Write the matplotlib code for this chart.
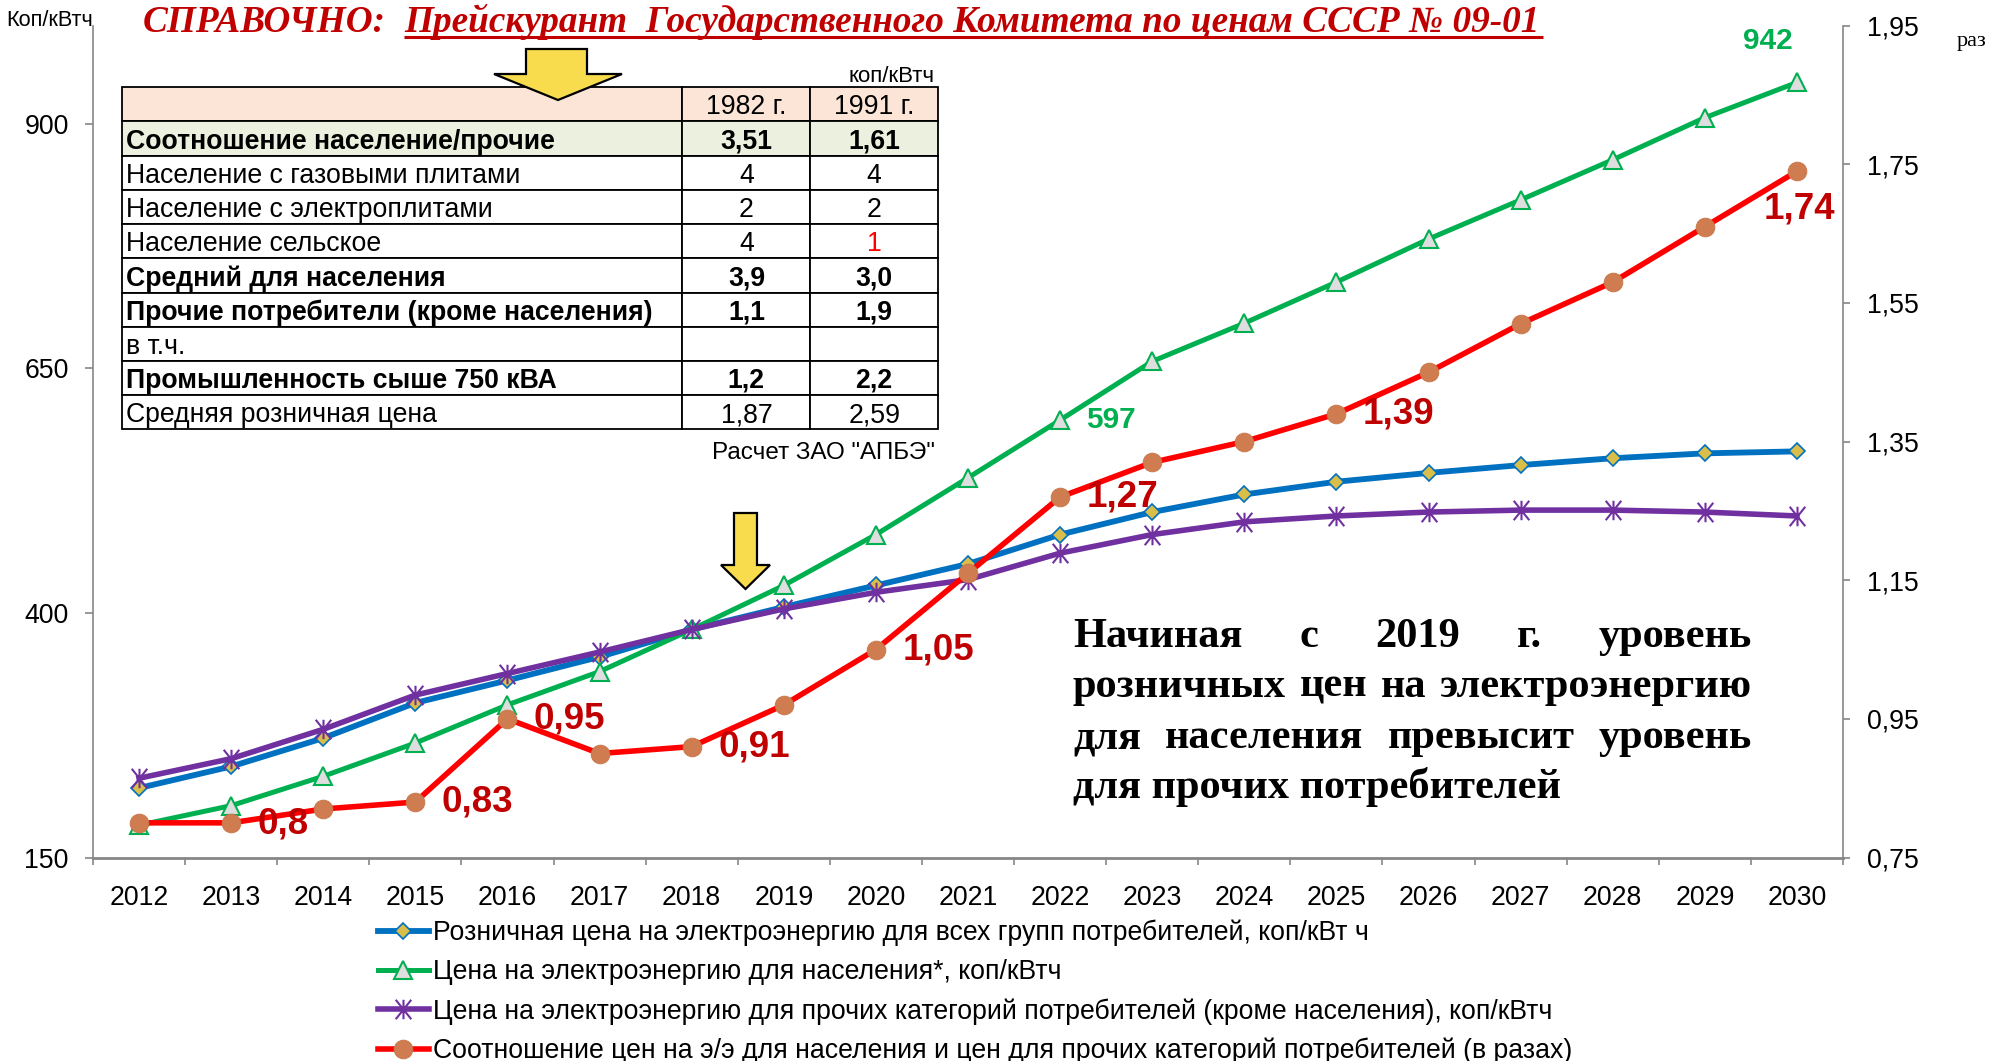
import matplotlib
matplotlib.use("Agg")
import matplotlib.pyplot as plt
import numpy as np
from matplotlib.path import Path
from matplotlib.patches import Polygon
from matplotlib.ticker import FuncFormatter

plt.rcParams["font.family"] = ["Liberation Sans", "DejaVu Sans"]

W, H = 1997, 1061

# --- data ---
years = [str(y) for y in range(2012, 2031)]
retail_all = [221, 243, 272, 308, 331, 355, 383, 406, 428, 450,
              480, 503, 521, 534, 543, 551, 558, 563, 565]
price_pop = [183, 203, 233, 267, 306, 340, 383, 428, 480, 538,
             597, 657, 696, 738, 782, 822, 863, 906, 942]
price_other = [231, 251, 281, 316, 338, 360, 383, 404, 421, 434,
               461, 480, 493, 499, 503, 505, 505, 503, 499]
ratio = [0.80, 0.80, 0.82, 0.83, 0.95, 0.90, 0.91, 0.97, 1.05, 1.16,
         1.27, 1.32, 1.35, 1.39, 1.45, 1.52, 1.58, 1.66, 1.74]
ratio_label_idx = [1, 3, 4, 6, 8, 10, 13]
pop_label_idx = [10]

series_names = [
    "Розничная цена на электроэнергию для всех групп потребителей, коп/кВт ч",
    "Цена на электроэнергию для населения*, коп/кВтч",
    "Цена на электроэнергию для прочих категорий потребителей (кроме населения), коп/кВтч",
    "Соотношение цен на э/э для населения и цен для прочих категорий потребителей (в разах)",
]

tbl_header = ["", "1982 г.", "1991 г."]
tbl_rows = ["Соотношение население/прочие", "Население с газовыми плитами",
            "Население с электроплитами", "Население сельское",
            "Средний для населения", "Прочие потребители (кроме населения)",
            "в т.ч.", "Промышленность сыше 750 кВА", "Средняя розничная цена"]
tbl_1982 = ["3,51", "4", "2", "4", "3,9", "1,1", "", "1,2", "1,87"]
tbl_1991 = ["1,61", "4", "2", "1", "3,0", "1,9", "", "2,2", "2,59"]
tbl_bold = [0, 4, 5, 7]

note_lines = [["Начиная", "с", "2019", "г.", "уровень"],
              ["розничных", "цен", "на", "электроэнергию"],
              ["для", "населения", "превысит", "уровень"],
              ["для прочих потребителей"]]

BLUE, GREEN, PURPLE, RED = "#0070C0", "#00B050", "#7030A0", "#FF0000"
DARKRED = "#C00000"
GRAY = "#868686"
FS = 19.2


def ratio_txt(v):
    return f"{v:.2f}".rstrip("0").replace(".", ",")


star = Path([(0, -1), (0, 1), (-0.8, -1), (0.8, 1), (-0.8, 1), (0.8, -1)],
            [Path.MOVETO, Path.LINETO] * 3)

fig = plt.figure(figsize=(W / 100, H / 100), dpi=100)
ax = fig.add_axes([93 / W, 1 - 857.5 / H, (1843 - 93) / W, (857.5 - 25.7) / H])
ax2 = ax.twinx()

x = np.arange(len(years))
l1, = ax.plot(x, retail_all, color=BLUE, lw=4.2, marker="D", ms=8.5,
              mfc="#D9BE4A", mec=BLUE, mew=1.2, zorder=3)
l2, = ax.plot(x, price_pop, color=GREEN, lw=3.6, marker="^", ms=12.5,
              mfc="#DEDEDE", mec=GREEN, mew=1.5, zorder=3)
l3, = ax.plot(x, price_other, color=PURPLE, lw=4.0, marker=star, ms=14,
              mfc="none", mec=PURPLE, mew=1.5, zorder=4)
l4, = ax2.plot(x, ratio, color=RED, lw=4.0, marker="o", ms=13.5,
               mfc="#CE7C50", mec="#C87548", mew=0.6, zorder=5)

ax.set_xlim(-0.5, len(years) - 0.5)
ax.set_ylim(150, 1000)
ax2.set_ylim(0.75, 1.95)
ax.set_yticks([150, 400, 650, 900])
ax2.set_yticks([0.75, 0.95, 1.15, 1.35, 1.55, 1.75, 1.95])
ax2.yaxis.set_major_formatter(FuncFormatter(lambda v, p: f"{v:.2f}".replace(".", ",")))
ax.set_xticks(x)
ax.set_xticklabels(years)
ax.set_xticks(np.arange(-0.5, len(years), 1), minor=True)

for a in (ax, ax2):
    a.spines["top"].set_visible(False)
    for s in a.spines.values():
        s.set_color(GRAY)
        s.set_linewidth(1.2)
ax.spines["right"].set_visible(False)
ax2.spines["left"].set_visible(False)
ax2.spines["bottom"].set_visible(False)
ax.spines["bottom"].set_linewidth(2.0)

ax.tick_params(axis="x", which="major", length=0, pad=20, labelsize=FS)
ax.tick_params(axis="x", which="minor", length=5, width=1.2, color=GRAY, direction="out")
ax.tick_params(axis="y", length=5.5, width=1.2, color=GRAY, pad=12, labelsize=FS)
ax2.tick_params(axis="y", length=5, width=1.2, color=GRAY, pad=12, labelsize=FS)

# data labels
for i in ratio_label_idx:
    ax2.annotate(ratio_txt(ratio[i]), (x[i], ratio[i]), xytext=(19, -1 if i == 1 else 0),
                 textcoords="offset points", ha="left", va="center",
                 fontsize=26.5, fontweight="bold", color=DARKRED, zorder=6)
ax2.annotate(ratio_txt(ratio[-1]), (x[-1], ratio[-1]), xytext=(2, -27),
             textcoords="offset points", ha="center", va="center",
             fontsize=26.5, fontweight="bold", color=DARKRED)
for i in pop_label_idx:
    ax.annotate(str(price_pop[i]), (x[i], price_pop[i]), xytext=(18.5, 0),
                textcoords="offset points", ha="left", va="center",
                fontsize=21.5, fontweight="bold", color=GREEN)
ax.annotate(str(price_pop[-1]), (x[-1], price_pop[-1]), xytext=(-21, 30),
            textcoords="offset points", ha="center", va="center",
            fontsize=21.5, fontweight="bold", color=GREEN)

# legend
fig.legend([l1, l2, l3, l4], series_names, loc="upper left",
           bbox_to_anchor=(378 / W, 1 - 919.5 / H), frameon=False, fontsize=FS,
           handlelength=1.91, handletextpad=0.15, labelspacing=0.49,
           borderpad=0, borderaxespad=0)

# overlay in pixel coordinates for annotations and table
ov = fig.add_axes([0, 0, 1, 1])
ov.set_xlim(0, W)
ov.set_ylim(H, 0)
ov.axis("off")
r = fig.canvas.get_renderer()

ov.text(6, 26, "Коп/кВтч", fontsize=15.7, ha="left", va="baseline")
ov.text(1957, 46, "раз", fontsize=16, family="Liberation Serif", ha="left", va="baseline")

# title
t1 = ov.text(143, 32, "СПРАВОЧНО:", fontsize=26, family="Liberation Serif",
             fontweight="bold", style="italic", color=DARKRED, ha="left", va="baseline")
t2 = ov.text(404, 32, "Прейскурант  Государственного Комитета по ценам СССР № 09-01",
             fontsize=26, family="Liberation Serif", fontweight="bold", style="italic",
             color=DARKRED, ha="left", va="baseline")
w2 = t2.get_window_extent(r).width
fs = 26 * (1540 - 404) / w2
t1.set_fontsize(fs)
t2.set_fontsize(fs)
ov.plot([404, 1543], [37, 37], color=DARKRED, lw=2.2, solid_capstyle="butt")


# arrows
def arrow(xl, xr, top, hl, hr, hy, tipy):
    return Polygon([(xl, top), (xr, top), (xr, hy), (hr, hy), ((hl + hr) / 2, tipy),
                    (hl, hy), (xl, hy)], closed=True, fc="#F8DC4E", ec="black", lw=1.6,
                   zorder=7)


ov.add_patch(arrow(526, 587, 49, 494, 622, 74, 100))
ov.add_patch(arrow(734, 757, 513, 721, 770, 565, 589))

# table
tx0, tx1, ty0, ty1 = 122.4, 938, 87.3, 429.3
cells = [tbl_header] + [[a, b, c] for a, b, c in zip(tbl_rows, tbl_1982, tbl_1991)]
cw = [560, 128, 127.6]
tb = ov.table(cellText=cells, colWidths=[c / sum(cw) for c in cw], cellLoc="center",
              bbox=[tx0 / W, 1 - ty1 / H, (tx1 - tx0) / W, (ty1 - ty0) / H])
tb.auto_set_font_size(False)
tb.set_fontsize(FS)
for (ri, ci), cell in tb.get_celld().items():
    cell.set_edgecolor("black")
    cell.set_linewidth(1.3)
    cell.PAD = 0.006
    cell.get_text().set_verticalalignment("center_baseline")
    if ci == 0:
        cell.get_text().set_horizontalalignment("left")
    if ri == 0:
        cell.set_facecolor("#FCE4D6")
    elif ri == 1:
        cell.set_facecolor("#EBF1DE")
    if ri >= 1 and (ri - 1) in tbl_bold:
        cell.get_text().set_fontweight("bold")
tb[4, 2].get_text().set_color("red")

ov.text(935, 81.5, "коп/кВтч", fontsize=16, ha="right", va="baseline")
ov.text(935, 459, 'Расчет ЗАО "АПБЭ"', fontsize=17.5, ha="right", va="baseline")

# justified note
nx0, nx1 = 1073, 1752
for k, (words, base) in enumerate(zip(note_lines, [647, 697, 748, 798])):
    arts = [ov.text(nx0, base, w, fontsize=30.5, family="Liberation Serif",
                    fontweight="bold", ha="left", va="baseline") for w in words]
    if k == len(note_lines) - 1:
        continue
    widths = [a.get_window_extent(r).width for a in arts]
    gap = (nx1 - nx0 - sum(widths)) / (len(words) - 1)
    xp = nx0
    for a, w in zip(arts, widths):
        a.set_x(xp)
        xp += w + gap

fig.savefig("out.png", dpi=100)
